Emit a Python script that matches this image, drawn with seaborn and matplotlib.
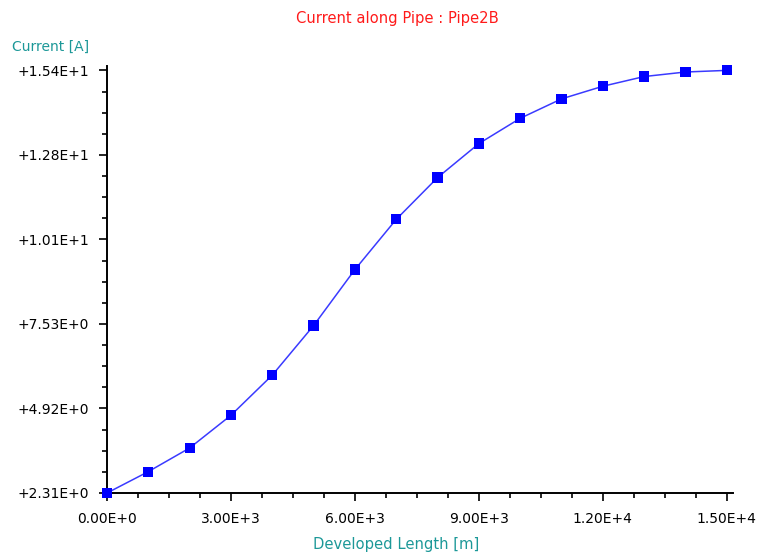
import matplotlib
matplotlib.use("Agg")
import matplotlib.pyplot as plt
from matplotlib.ticker import FixedLocator, AutoMinorLocator
import numpy as np
import pandas as pd
import seaborn as sns

# Current along the pipe at each developed-length station
length_m = [0, 1000, 2000, 3000, 4000, 5000, 6000, 7000, 8000, 9000,
            10000, 11000, 12000, 13000, 14000, 15000]
current_a = [2.31, 2.97, 3.70, 4.71, 5.95, 7.48, 9.21, 10.76, 12.05, 13.10,
             13.88, 14.48, 14.87, 15.17, 15.31, 15.36]

x_ticks = [0, 3000, 6000, 9000, 12000, 15000]
x_tick_labels = ["0.00E+0", "3.00E+3", "6.00E+3", "9.00E+3", "1.20E+4", "1.50E+4"]
y_ticks = [2.31, 4.92, 7.53, 10.14, 12.75, 15.36]
y_tick_labels = ["+2.31E+0", "+4.92E+0", "+7.53E+0", "+1.01E+1", "+1.28E+1", "+1.54E+1"]

df = pd.DataFrame({"length": length_m, "current": current_a})

sns.set_style("white")
plt.rcParams["font.family"] = ["DejaVu Sans"]

TEAL = "#1c9898"
FS = 10
fig = plt.figure(figsize=(7.76, 5.57), dpi=100)
ax = fig.add_axes([107 / 776, 1 - 493 / 557, 626 / 776, (493 - 66.5) / 557])

sns.lineplot(data=df, x="length", y="current", ax=ax, color="#3a3aff", lw=1.1)
sns.scatterplot(data=df, x="length", y="current", ax=ax, marker="s", s=54,
                color="#0000ff", edgecolor="none", zorder=3, clip_on=False)

ax.set_xlim(0, 15150)
ax.set_ylim(2.31, 15.48)

ax.xaxis.set_major_locator(FixedLocator(x_ticks))
ax.yaxis.set_major_locator(FixedLocator(y_ticks))
ax.set_xticklabels(x_tick_labels)
ax.set_yticklabels(y_tick_labels)
ax.xaxis.set_minor_locator(AutoMinorLocator(4))
ax.yaxis.set_minor_locator(AutoMinorLocator(4))

for side in ("top", "right"):
    ax.spines[side].set_visible(False)
for side in ("left", "bottom"):
    ax.spines[side].set_color("black")
    ax.spines[side].set_linewidth(1.4)

ax.tick_params(which="major", direction="out", length=6, width=1.2,
               color="black", labelsize=FS, labelcolor="black", pad=7,
               bottom=True, left=True)
ax.tick_params(which="minor", direction="out", length=3.5, width=1.2,
               color="black", bottom=True, left=True)
ax.tick_params(axis="x", which="major", pad=8)

ax.set_xlabel("")
ax.set_ylabel("")
ax.grid(False)

fig.text(397 / 776, 1 - 18 / 557, "Current along Pipe : Pipe2B", color="#ff1a1a",
         fontsize=10.6, ha="center", va="center")
fig.text(12 / 776, 1 - 47 / 557, "Current [A]", color=TEAL,
         fontsize=FS, ha="left", va="center")
fig.text(396 / 776, 1 - 545 / 557, "Developed Length [m]", color=TEAL,
         fontsize=10.6, ha="center", va="center")

fig.savefig("out.png", dpi=100, facecolor="white")
